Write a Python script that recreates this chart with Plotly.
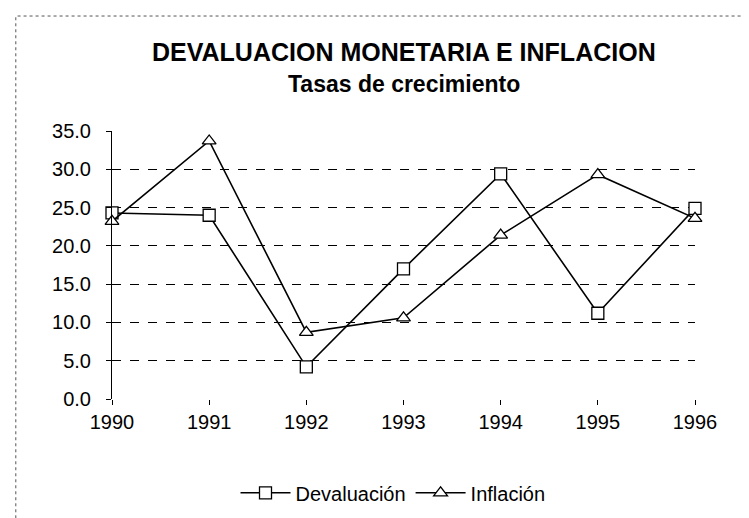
import plotly.graph_objects as go

# Datos
anios = [1990, 1991, 1992, 1993, 1994, 1995, 1996]
devaluacion = [24.3, 24.0, 4.2, 17.0, 29.4, 11.2, 24.9]
inflacion = [23.2, 33.7, 8.7, 10.6, 21.4, 29.3, 23.6]

y_ticks = [0, 5, 10, 15, 20, 25, 30, 35]
y_ticktext = ["0.0", "5.0", "10.0", "15.0", "20.0", "25.0", "30.0", "35.0"]
grid_vals = [0, 5, 10, 15, 20, 25, 30]

fuente = "Liberation Sans, Arial, sans-serif"

fig = go.Figure()

fig.add_trace(go.Scatter(
    x=anios, y=devaluacion, name="Devaluación", mode="lines+markers",
    line=dict(color="black", width=1.6),
    marker=dict(symbol="square", size=12, color="white",
                line=dict(color="black", width=1.3)),
    cliponaxis=False,
))
fig.add_trace(go.Scatter(
    x=anios, y=inflacion, name="Inflación", mode="lines+markers",
    line=dict(color="black", width=1.6),
    marker=dict(symbol="triangle-up", size=12, color="white",
                line=dict(color="black", width=1.3)),
    cliponaxis=False,
))

fig.update_layout(
    width=749, height=518,
    margin=dict(l=104, r=62, t=123, b=127),
    plot_bgcolor="white", paper_bgcolor="white",
    font=dict(family=fuente, color="black", size=19),
    showlegend=True,
    legend=dict(orientation="h", x=0.482, y=-0.35, xanchor="center", yanchor="middle",
                font=dict(size=20), itemwidth=50, bgcolor="rgba(0,0,0,0)"),
    annotations=[
        dict(text="<b>DEVALUACION MONETARIA E INFLACION</b>", xref="paper", yref="paper",
             x=0.5, y=1.295, xanchor="center", yanchor="middle", showarrow=False,
             font=dict(size=25)),
        dict(text="<b>Tasas de crecimiento</b>", xref="paper", yref="paper",
             x=0.5, y=1.175, xanchor="center", yanchor="middle", showarrow=False,
             font=dict(size=23)),
    ],
    shapes=[
        # marco punteado del grafico
        dict(type="rect", xref="paper", yref="paper", x0=-0.165, x1=1.3, y0=-0.7, y1=1.429,
             line=dict(color="#555555", width=1, dash="dot"), layer="below"),
    ],
)

fig.update_xaxes(
    range=[1990, 1996], tickvals=anios, ticktext=[str(a) for a in anios],
    showgrid=False, zeroline=False, showline=False,
    ticks="outside", ticklen=5, tickcolor="black", tickfont=dict(size=20),
)
fig.update_yaxes(
    range=[0, 35], tickvals=y_ticks, ticktext=y_ticktext,
    showgrid=False, zeroline=False, showline=True, linecolor="black", linewidth=1,
    ticks="outside", ticklen=5, tickcolor="black", tickfont=dict(size=20),
    ticklabelstandoff=11,
)

# eje superpuesto solo para las lineas de cuadricula
fig.update_layout(yaxis2=dict(
    overlaying="y", range=[0, 35], tickvals=grid_vals, showticklabels=False,
    showgrid=True, gridcolor="black", gridwidth=1, griddash="dash",
    zeroline=False, showline=False, ticks="",
))
fig.add_trace(go.Scatter(x=[anios[0]], y=[0], yaxis="y2", mode="markers",
                         marker=dict(opacity=0), showlegend=False, hoverinfo="skip"))

fig.write_html("out.html")
